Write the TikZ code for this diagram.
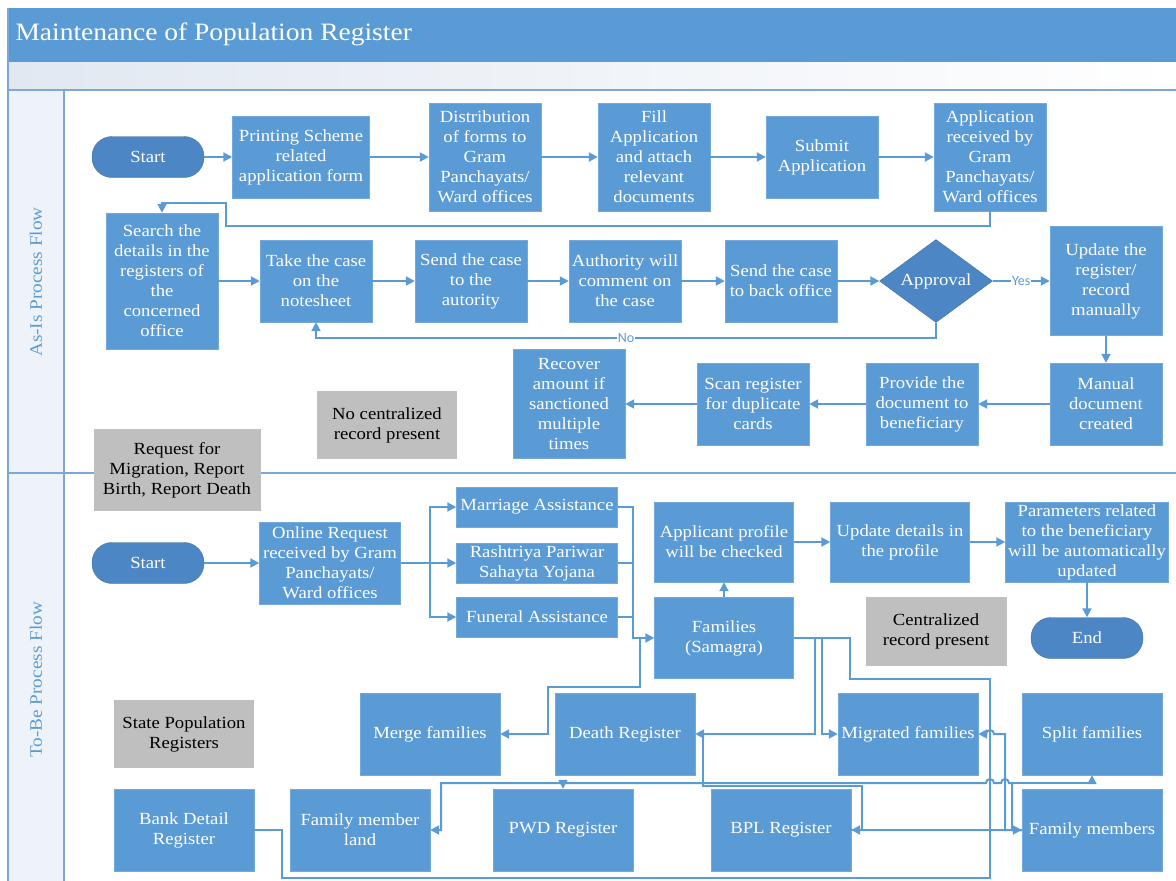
\documentclass[tikz,border=0pt]{standalone}
\usepackage{fontspec}
\setmainfont{Liberation Serif}[FakeStretch=1.1]
\newfontfamily\lblfont{Carlito}
\usetikzlibrary{arrows.meta,positioning,shapes.geometric}
\definecolor{boxblue}{HTML}{5B9BD5}
\definecolor{termblue}{HTML}{4D86C4}
\definecolor{termline}{HTML}{41719C}
\definecolor{notegray}{HTML}{BFBFBF}
\definecolor{laneline}{HTML}{7DA7D9}
\definecolor{lanefill}{HTML}{EEF3FA}
\definecolor{bandgray}{HTML}{E1E8F1}
\newcommand{\boxfont}{\fontsize{17}{20}\selectfont}

\begin{document}
\begin{tikzpicture}[x=1pt,y=-1pt,
  proc/.style={draw=boxblue!85!white,fill=boxblue,text=white,align=center,font=\boxfont,minimum width=112pt,minimum height=82pt,inner sep=1pt},
  term/.style={draw=termline,fill=termblue,text=white,font=\boxfont,rounded corners=20pt,minimum width=112pt,minimum height=41pt},
  dec/.style={diamond,draw=termline,fill=termblue,text=white,font=\boxfont,aspect=1.36,minimum width=113pt,minimum height=83pt,inner sep=0pt},
  note/.style={fill=notegray,text=black,align=center,font=\boxfont,minimum width=140pt,minimum height=68pt,inner sep=1pt},
  flow/.style={draw=boxblue,line width=2pt,-{Triangle[length=9pt,width=9pt]}},
  link/.style={draw=boxblue,line width=2pt},
  yn/.style={font=\lblfont\fontsize{14}{14}\selectfont,text=boxblue,fill=white,inner sep=1pt},
  lane/.style={rotate=90,text=boxblue,font=\fontsize{17.5}{20}\selectfont}]
\useasboundingbox (0,0) rectangle (1176,881);
% swimlane frame
\fill[lanefill] (8,90) rectangle (64,881);
\shade[left color=bandgray,right color=white] (8,62) rectangle (1176,90);
\fill[boxblue] (8,8) rectangle (1176,62);
\draw[laneline,line width=1.2pt] (8,8) -- (8,881) (8,90) -- (1176,90) (8,473) -- (1176,473) (64,90) -- (64,881);
\node[anchor=west,text=white,font=\fontsize{25}{28}\selectfont] (title) at (12,34) {Maintenance of Population Register};
\node[lane] (asis) at (36,282) {As-Is Process Flow};
\node[lane] (tobe) at (36,680) {To-Be Process Flow};

% as-is flow
\node[term] (start1) at (148,157) {Start};
\node[proc,minimum width=137pt] (print) at (301,157) {Printing Scheme\\related\\application form};
\node[proc,minimum height=108pt] (distr) at (485,157) {Distribution\\of forms to\\Gram\\Panchayats/\\Ward offices};
\node[proc,minimum height=108pt] (fillapp) at (654,157) {Fill\\Application\\and attach\\relevant\\documents};
\node[proc] (submit) at (822,157) {Submit\\Application};
\node[proc,minimum height=108pt] (recv) at (990,157) {Application\\received by\\Gram\\Panchayats/\\Ward offices};
\node[proc,minimum height=136pt] (search) at (162,281) {Search the\\details in the\\registers of\\the\\concerned\\office};
\node[proc] (take) at (316,281) {Take the case\\on the\\notesheet};
\node[proc] (sendauth) at (471,281) {Send the case\\to the\\autority};
\node[proc] (auth) at (625,281) {Authority will\\comment on\\the case};
\node[proc] (sendback) at (781,281) {Send the case\\to back office};
\node[dec] (appr) at (936,281) {Approval};
\node[proc,minimum height=109pt] (update) at (1106,281) {Update the\\register/\\record\\manually};
\node[proc] (manual) at (1106,404) {Manual\\document\\created};
\node[proc] (provide) at (922,404) {Provide the\\document to\\beneficiary};
\node[proc] (scan) at (753,404) {Scan register\\for duplicate\\cards};
\node[proc,minimum height=109pt] (recover) at (569,404) {Recover\\amount if\\sanctioned\\multiple\\times};
\node[note] (nocent) at (387,425) {No centralized\\record present};
\node[note,minimum width=167pt,minimum height=82pt] (request) at (177,470) {Request for\\Migration, Report\\Birth, Report Death};

\draw[flow] (start1) -- (print);
\draw[flow] (print) -- (distr);
\draw[flow] (distr) -- (fillapp);
\draw[flow] (fillapp) -- (submit);
\draw[flow] (submit) -- (recv);
\draw[flow] (recv.south) -- (990,226) -- (226,226) -- (226,203) -- (162,203) -- (search.north);
\draw[flow] (search) -- (take);
\draw[flow] (take) -- (sendauth);
\draw[flow] (sendauth) -- (auth);
\draw[flow] (auth) -- (sendback);
\draw[flow] (sendback) -- (appr);
\draw[flow] (appr) -- node[yn] {Yes} (update);
\draw[flow] (appr.south) -- ++(0,15) -| node[yn,pos=0.25] {No} (take.south);
\draw[flow] (update) -- (manual);
\draw[flow] (manual) -- (provide);
\draw[flow] (provide) -- (scan);
\draw[flow] (scan) -- (recover);

% to-be flow
\node[term] (start2) at (148,563) {Start};
\node[proc,minimum width=141pt] (online) at (330,563) {Online Request\\received by Gram\\Panchayats/\\Ward offices};
\node[proc,minimum width=161pt,minimum height=40pt] (marr) at (537,507) {Marriage Assistance};
\node[proc,minimum width=161pt,minimum height=40pt] (rash) at (537,563) {Rashtriya Pariwar\\Sahayta Yojana};
\node[proc,minimum width=161pt,minimum height=40pt] (fun) at (537,617) {Funeral Assistance};
\node[proc,minimum width=139pt,minimum height=80pt] (appl) at (724,542) {Applicant profile\\will be checked};
\node[proc,minimum width=139pt,minimum height=80pt] (upd) at (900,542) {Update details in\\the profile};
\node[proc,minimum width=163pt,minimum height=80pt] (param) at (1087,542) {Parameters related\\to the beneficiary\\will be automatically\\updated};
\node[proc,minimum width=139pt,minimum height=81pt] (fam) at (724,638) {Families\\(Samagra)};
\node[note,minimum width=141pt,minimum height=69pt] (cent) at (936,631) {Centralized\\record present};
\node[term] (end) at (1087,638) {End};
\node[note] (state) at (184,734) {State Population\\Registers};
\node[proc,minimum width=140pt] (merge) at (430,734) {Merge families};
\node[proc,minimum width=140pt] (death) at (625,734) {Death Register};
\node[proc,minimum width=140pt] (migr) at (908,734) {Migrated families};
\node[proc,minimum width=140pt] (split) at (1092,734) {Split families};
\node[proc,minimum width=140pt] (bank) at (184,830) {Bank Detail\\Register};
\node[proc,minimum width=140pt] (fland) at (360,830) {Family member\\land};
\node[proc,minimum width=140pt] (pwd) at (563,830) {PWD Register};
\node[proc,minimum width=140pt] (bpl) at (781,830) {BPL Register};
\node[proc,minimum width=140pt] (famm) at (1092,830) {Family members};

\draw[flow] (start2) -- (online);
\draw[flow] (online.east) -- ++(29,0) |- (marr.west);
\draw[flow] (online.east) -- (rash.west);
\draw[flow] (online.east) -- ++(29,0) |- (fun.west);
\draw[flow] (marr.east) -| (633,638) -- (fam.west);
\draw[link] (rash.east) -- (633,563);
\draw[link] (fun.east) -- (633,617);
\draw[flow] (fam) -- (appl);
\draw[flow] (appl) -- (upd);
\draw[flow] (upd) -- (param);
\draw[flow] (param) -- (end);
\draw[flow] (640,638) -- (640,687) -- (548,687) |- (merge.east);
\draw[flow] (fam.east) -- (815,638) |- (death.east);
\draw[flow] (fam.east) -- (822,638) |- (migr.west);
\draw[flow] (703,734) -- (703,786) -- (862,786) |- (bpl.east);
\draw[flow] (bpl.east) -- (famm.west);
\draw[link] (fam.east) -- (850,638) -- (850,679) -- (990,679) -- (990,878) -- (282,878) |- (bank.east);
\draw[flow] (famm.west) -- (1005,830) -- (1005,734) -- (994,734)
  arc[start angle=0,end angle=180,radius=4pt] -- (migr.east);
\draw[flow] (famm.west) -- (1012,830) -- (1012,783) -- (1009,783)
  arc[start angle=0,end angle=180,radius=4pt] -- (994,783)
  arc[start angle=0,end angle=180,radius=4pt] -- (441,783) |- (fland.east);
\draw[flow] (563,783) -- (pwd.north);
\draw[flow] (1012,783) -| (split.south);
\end{tikzpicture}
\end{document}
